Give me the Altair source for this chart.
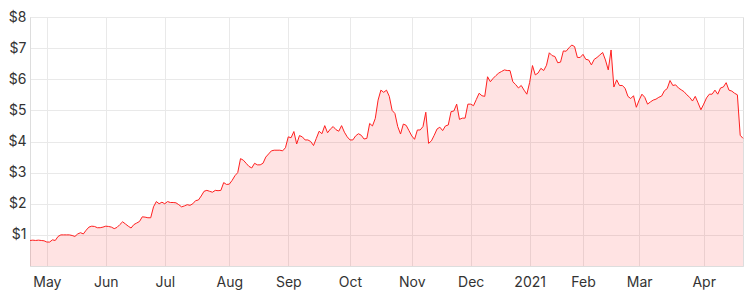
import altair as alt
import pandas as pd

# ASX trading holidays in the period (non-trading weekdays)
holidays = ["2020-06-08", "2020-12-25", "2020-12-28", "2021-01-01",
            "2021-01-26", "2021-04-02", "2021-04-05"]

# Daily closing prices, grouped by month
apr20 = [0.82, 0.83, 0.82, 0.83, 0.82, 0.81]
may20 = [0.77, 0.77, 0.84, 0.82, 0.95, 1.0, 1.0, 1.0, 1.0, 0.98, 0.95, 1.03, 1.07,
         1.03, 1.15, 1.25, 1.28, 1.27, 1.23, 1.23, 1.25]
jun20 = [1.28, 1.27, 1.25, 1.2, 1.24, 1.33, 1.42, 1.35, 1.28, 1.22, 1.33, 1.38, 1.43,
         1.58, 1.57, 1.55, 1.55, 1.9, 2.07, 2.0, 2.05]
jul20 = [2.0, 2.07, 2.04, 2.04, 2.03, 1.97, 1.9, 1.93, 1.97, 1.95, 2.0, 2.1, 2.12,
         2.25, 2.4, 2.43, 2.4, 2.37, 2.43, 2.42, 2.43, 2.68, 2.62]
aug20 = [2.63, 2.75, 2.9, 3.0, 3.45, 3.4, 3.3, 3.2, 3.15, 3.3, 3.25, 3.25, 3.3, 3.5,
         3.6, 3.7, 3.72, 3.72, 3.72, 3.7, 3.8]
sep20 = [4.15, 4.12, 4.32, 3.92, 4.19, 4.15, 4.05, 4.05, 4.0, 3.87, 4.1, 4.33, 4.25,
         4.51, 4.28, 4.4, 4.48, 4.38, 4.33, 4.51, 4.3, 4.15]
oct20 = [4.05, 4.05, 4.18, 4.25, 4.2, 4.08, 4.1, 4.58, 4.5, 4.74, 5.33, 5.65, 5.58,
         5.65, 5.45, 5.0, 4.9, 4.48, 4.24, 4.56, 4.52, 4.35]
nov20 = [4.18, 4.07, 4.37, 4.37, 4.48, 4.94, 3.94, 4.02, 4.2, 4.4, 4.46, 4.35, 4.5,
         4.53, 4.96, 4.98, 5.2, 4.71, 4.75, 4.75, 5.2]
dec20 = [5.2, 5.15, 5.35, 5.55, 5.47, 5.45, 6.08, 5.92, 6.03, 6.12, 6.2, 6.25, 6.3,
         6.28, 6.28, 5.92, 5.83, 5.72, 5.8, 5.65, 5.52]
jan21 = [5.9, 6.44, 6.14, 6.2, 6.35, 6.28, 6.45, 6.85, 6.76, 6.73, 6.53, 6.55, 6.91,
         6.9, 7.01, 7.1, 7.05, 6.7, 6.7]
feb21 = [6.8, 6.64, 6.62, 6.46, 6.64, 6.7, 6.78, 6.86, 6.62, 6.3, 6.94, 5.75, 5.98,
         5.8, 5.8, 5.71, 5.45, 5.38, 5.47, 5.1]
mar21 = [5.33, 5.52, 5.42, 5.2, 5.27, 5.33, 5.36, 5.42, 5.46, 5.63, 5.7, 5.96, 5.8,
         5.82, 5.72, 5.66, 5.6, 5.5, 5.42, 5.3, 5.45, 5.24, 5.02]
apr21 = [5.2, 5.4, 5.52, 5.52, 5.65, 5.52, 5.72, 5.75, 5.89, 5.65, 5.62, 5.55, 5.5,
         4.2, 4.1]

prices = (apr20 + may20 + jun20 + jul20 + aug20 + sep20 + oct20 + nov20 + dec20
          + jan21 + feb21 + mar21 + apr21)

# Axis ticks: first trading day of each month
tick_dates = ["2020-05-01", "2020-06-01", "2020-07-01", "2020-08-03", "2020-09-01",
              "2020-10-01", "2020-11-02", "2020-12-01", "2021-01-04", "2021-02-01",
              "2021-03-01", "2021-04-01"]
tick_labels = ["May", "Jun", "Jul", "Aug", "Sep", "Oct", "Nov", "Dec", "2021", "Feb",
               "Mar", "Apr"]
y_ticks = [1, 2, 3, 4, 5, 6, 7, 8]

days = [d.strftime("%Y-%m-%d") for d in pd.bdate_range("2020-04-23", "2021-04-23")]
days = [d for d in days if d not in holidays]
n = min(len(days), len(prices))
df = pd.DataFrame({"date": days[:n], "price": prices[:n]})

label_expr = ""
for d, l in zip(tick_dates, tick_labels):
    label_expr += f"datum.value == '{d}' ? '{l}' : "
label_expr += "''"

FONT = "Inter"
x_enc = alt.X(
    "date:O",
    sort=None,
    scale=alt.Scale(type="point", padding=0),
    axis=alt.Axis(
        values=tick_dates, labelExpr=label_expr, title=None, labelAngle=0,
        grid=True, gridColor="#e9e9e9", ticks=False, domainColor="#dddddd",
        labelFont=FONT, labelFontSize=14, labelColor="#333333", labelPadding=9,
    ),
)
y_enc = alt.Y(
    "price:Q",
    scale=alt.Scale(domain=[0, 8], nice=False),
    axis=alt.Axis(
        values=y_ticks, labelExpr="'$' + datum.value", title=None,
        grid=True, gridColor="#e9e9e9", ticks=False, domainColor="#dddddd",
        labelFont=FONT, labelFontSize=14, labelColor="#333333", labelPadding=4,
    ),
)

area = alt.Chart(df).mark_area(color="#ff0000", opacity=0.11).encode(x=x_enc, y=y_enc)
line = alt.Chart(df).mark_line(color="#ff2020", strokeWidth=1).encode(x=x_enc, y=y_enc)

chart = (
    alt.layer(area, line)
    .properties(
        width=713, height=249,
        autosize=alt.AutoSizeParams(type="none"),
        padding={"left": 30, "top": 17, "right": 5, "bottom": 31},
    )
    .configure_view(strokeWidth=0)
    .configure(background="white")
)

chart.save("out.html", embed_options={"renderer": "svg", "actions": False})
